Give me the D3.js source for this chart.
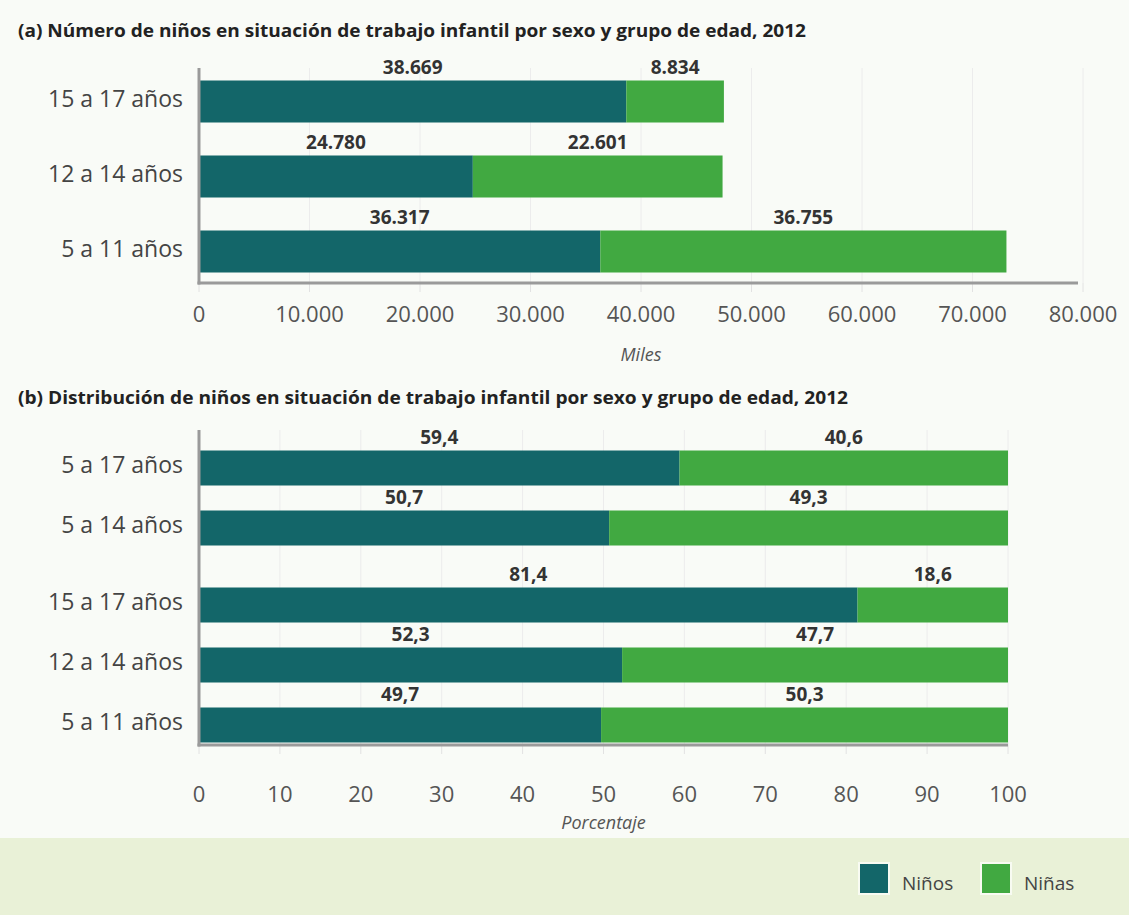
<!DOCTYPE html>
<html>
<head>
<meta charset="utf-8">
<script src="https://cdn.jsdelivr.net/npm/d3@7"></script>
<style>
  html, body { margin: 0; padding: 0; background: #f9fbf7; }
  svg { display: block; }
</style>
</head>
<body>
<svg id="chart" width="1129" height="915"></svg>
<script>
// ---------- DATA ----------
const titleA = "(a) Número de niños en situación de trabajo infantil por sexo y grupo de edad, 2012";
const titleB = "(b) Distribución de niños en situación de trabajo infantil por sexo y grupo de edad, 2012";
const catsA = ["15 a 17 años", "12 a 14 años", "5 a 11 años"];
const ninosA = [38669, 24780, 36317];
const ninasA = [8834, 22601, 36755];
const ticksA = [0, 10000, 20000, 30000, 40000, 50000, 60000, 70000, 80000];
const axisTitleA = "Miles";

const catsB = ["5 a 17 años", "5 a 14 años", "15 a 17 años", "12 a 14 años", "5 a 11 años"];
const groupB = [0, 0, 1, 1, 1];
const ninosB = [59.4, 50.7, 81.4, 52.3, 49.7];
const ninasB = [40.6, 49.3, 18.6, 47.7, 50.3];
const ticksB = [0, 10, 20, 30, 40, 50, 60, 70, 80, 90, 100];
const axisTitleB = "Porcentaje";

const seriesNames = ["Niños", "Niñas"];
const seriesColors = ["#136669", "#41a941"];

// ---------- SETUP ----------
const locale = d3.formatLocale({decimal: ",", thousands: ".", grouping: [3], currency: ["", ""]});
const fmtA = locale.format(",d");
const fmtB = locale.format(".1f");

const svg = d3.select("#chart");
const FONT = "'Open Sans', 'Noto Sans', sans-serif";

svg.append("rect").attr("x", 0).attr("y", 0).attr("width", 1129).attr("height", 915).attr("fill", "#f9fbf7");

function drawPanel(opts) {
  const g = svg.append("g");
  const x = d3.scaleLinear().domain(opts.xDomain).range([199, opts.xRight]);
  const y = d3.scaleBand().domain(opts.cats).range(opts.yRange)
    .paddingInner(opts.pad).paddingOuter(opts.pad / 2);
  const yPos = (c, i) => y(c) + opts.groups[i] * opts.groupGap;

  // title
  g.append("text").attr("x", 18).attr("y", opts.titleY)
    .attr("font-family", FONT).attr("font-weight", "bold").attr("font-size", 17)
    .attr("fill", "#222").attr("textLength", opts.titleLen).attr("lengthAdjust", "spacingAndGlyphs")
    .text(opts.title);

  // gridlines
  g.selectAll(".grid").data(opts.ticks).enter().append("line")
    .attr("x1", d => x(d)).attr("x2", d => x(d))
    .attr("y1", opts.axisTop).attr("y2", opts.axisBottom)
    .attr("stroke", "#ececec").attr("stroke-width", 1);

  // small tick marks under axis
  g.selectAll(".tk").data(opts.ticks).enter().append("line")
    .attr("x1", d => x(d)).attr("x2", d => x(d))
    .attr("y1", opts.axisBottom).attr("y2", opts.axisBottom + 9)
    .attr("stroke", "#e2e2e2").attr("stroke-width", 1);

  // bars
  const rows = opts.cats.map((c, i) => ({c, i, a: opts.s1[i], b: opts.s2[i]}));
  g.selectAll(".b1").data(rows).enter().append("rect")
    .attr("x", x(0)).attr("y", d => yPos(d.c, d.i))
    .attr("width", d => x(d.a) - x(0)).attr("height", y.bandwidth())
    .attr("fill", seriesColors[0]);
  g.selectAll(".b2").data(rows).enter().append("rect")
    .attr("x", d => x(d.a)).attr("y", d => yPos(d.c, d.i))
    .attr("width", d => x(d.a + d.b) - x(d.a)).attr("height", y.bandwidth())
    .attr("fill", seriesColors[1]);

  // value labels
  const lab = (val, x0, x1, d) => g.append("text")
    .attr("x", (x(x0) + x(x1)) / 2).attr("y", yPos(d.c, d.i) - 7)
    .attr("text-anchor", "middle").attr("font-family", FONT).attr("font-weight", "bold")
    .attr("font-size", 19).attr("fill", "#333").text(opts.fmt(val));
  rows.forEach(d => { lab(d.a, 0, d.a, d); lab(d.b, d.a, d.a + d.b, d); });

  // category labels
  g.selectAll(".cat").data(rows).enter().append("text")
    .attr("x", 183).attr("y", d => yPos(d.c, d.i) + y.bandwidth() / 2 + 5)
    .attr("text-anchor", "end")
    .attr("font-family", FONT).attr("font-size", 23).attr("fill", "#444").text(d => d.c);

  // axis lines
  g.append("line").attr("x1", 199).attr("x2", 199).attr("y1", opts.axisTop).attr("y2", opts.axisBottom + 1.5)
    .attr("stroke", "#9a9a9a").attr("stroke-width", 3);
  g.append("line").attr("x1", 197.5).attr("x2", opts.axisLineRight).attr("y1", opts.axisBottom).attr("y2", opts.axisBottom)
    .attr("stroke", "#9a9a9a").attr("stroke-width", 3);

  // tick labels
  g.selectAll(".tl").data(opts.ticks).enter().append("text")
    .attr("x", d => x(d)).attr("y", opts.tickY).attr("text-anchor", "middle")
    .attr("font-family", FONT).attr("font-size", 22).attr("fill", "#555").text(d => opts.fmtTick(d));

  // axis title
  g.append("text").attr("x", (x.range()[0] + x.range()[1]) / 2).attr("y", opts.axisTitleY)
    .attr("text-anchor", "middle").attr("font-family", FONT).attr("font-style", "italic")
    .attr("font-size", 18).attr("fill", "#555").text(opts.axisTitle);
}

drawPanel({
  title: titleA, titleY: 37, titleLen: 788,
  cats: catsA, groups: catsA.map(() => 0), groupGap: 0,
  s1: ninosA, s2: ninasA, xDomain: [0, 80000], xRight: 1083, axisLineRight: 1078,
  yRange: [64, 289], pad: 0.44,
  axisTop: 68, axisBottom: 283, ticks: ticksA, tickY: 322, axisTitleY: 361,
  fmt: fmtA, fmtTick: d => d === 0 ? "0" : fmtA(d), axisTitle: axisTitleA
});

drawPanel({
  title: titleB, titleY: 404, titleLen: 830,
  cats: catsB, groups: groupB, groupGap: 17,
  s1: ninosB, s2: ninasB, xDomain: [0, 100], xRight: 1008, axisLineRight: 1008,
  yRange: [438, 738], pad: 0.4167,
  axisTop: 430, axisBottom: 745, ticks: ticksB, tickY: 802, axisTitleY: 829,
  fmt: fmtB, fmtTick: d => String(d), axisTitle: axisTitleB
});

// ---------- LEGEND ----------
svg.append("rect").attr("x", 0).attr("y", 838).attr("width", 1129).attr("height", 77).attr("fill", "#e9f1d7");
const legX = [859, 981];
seriesNames.forEach((n, i) => {
  svg.append("rect").attr("x", legX[i]).attr("y", 863).attr("width", 30).attr("height", 31)
    .attr("fill", seriesColors[i]).attr("stroke", "#f8fbf2").attr("stroke-width", 2);
  svg.append("text").attr("x", legX[i] + 43).attr("y", 890)
    .attr("font-family", FONT).attr("font-size", 19).attr("fill", "#444").text(n);
});
</script>
</body>
</html>
